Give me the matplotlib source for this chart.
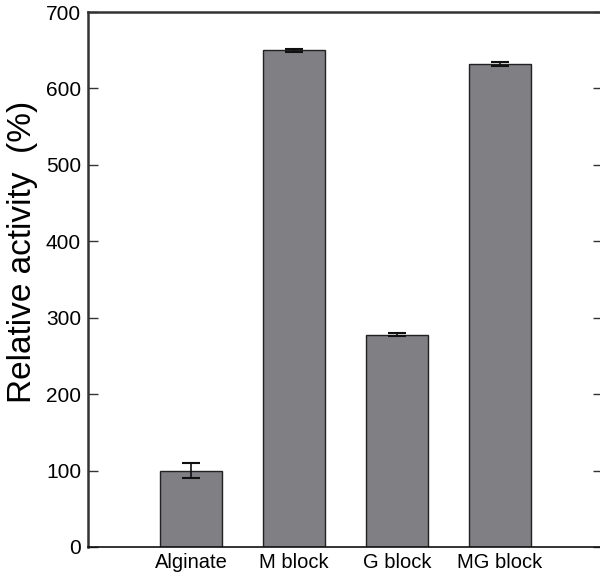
import matplotlib
matplotlib.use('Agg')
import matplotlib.pyplot as plt

# data
categories = ['Alginate', 'M block', 'G block', 'MG block']
activity = [100, 650, 278, 632]
errors = [10, 2, 2, 2]
yticks = [0, 100, 200, 300, 400, 500, 600, 700]

plt.rcParams['font.family'] = ['Liberation Sans', 'DejaVu Sans']

fig = plt.figure(figsize=(6.0, 5.73), dpi=100)
ax = fig.add_axes([88 / 600, 26 / 573, 515 / 600, 535 / 573])

positions = range(1, len(categories) + 1)
ax.bar(positions, activity, width=0.6, color='#7f7f84', edgecolor='#222222',
       linewidth=1.0, zorder=2)
ax.errorbar(positions, activity, yerr=errors, fmt='none', ecolor='#111111',
            elinewidth=1.2, capsize=6.5, capthick=1.5, zorder=3)

ax.set_xlim(0, 5)
ax.set_ylim(0, 700)
ax.set_xticks(list(positions))
ax.set_xticklabels(categories, fontsize=14.5)
ax.set_yticks(yticks)
ax.set_yticklabels([str(v) for v in yticks], fontsize=15)
ax.tick_params(axis='x', length=0, pad=4)
ax.tick_params(axis='y', direction='in', length=7, width=1.0, color='#333333',
               right=True, pad=5)
ax.set_ylabel('Relative activity  (%)', fontsize=24)
ax.yaxis.set_label_coords(-0.098, 0.552)

for side in ['left', 'top']:
    ax.spines[side].set_linewidth(1.8)
    ax.spines[side].set_color('#333333')
ax.spines['bottom'].set_linewidth(1.2)
ax.spines['bottom'].set_color('#111111')
ax.spines['right'].set_visible(False)

fig.savefig('out.png', dpi=100)
